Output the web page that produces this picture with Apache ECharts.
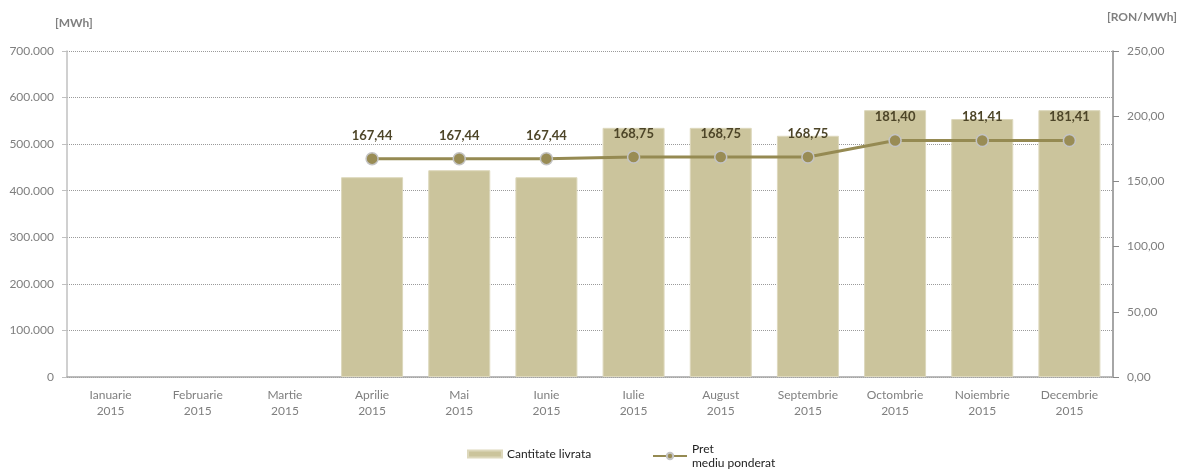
<!DOCTYPE html>
<html>
<head>
<meta charset="utf-8">
<script src="https://cdn.jsdelivr.net/npm/echarts@6/dist/echarts.min.js"></script>
<style>
  html, body { margin: 0; padding: 0; background: #fff; }
  #main { width: 1180px; height: 472px; }
</style>
</head>
<body>
<div id="main"></div>
<script>
// luni + valori
var luni = ['Ianuarie\n2015', 'Februarie\n2015', 'Martie\n2015', 'Aprilie\n2015', 'Mai\n2015', 'Iunie\n2015',
            'Iulie\n2015', 'August\n2015', 'Septembrie\n2015', 'Octombrie\n2015', 'Noiembrie\n2015', 'Decembrie\n2015'];
var cantitate = [null, null, null, 429000, 444000, 429000, 535000, 535000, 518000, 573000, 554000, 573000];
var pret = [null, null, null, 167.44, 167.44, 167.44, 168.75, 168.75, 168.75, 181.40, 181.41, 181.41];

var gri = '#7f7f7f';
var font = 'Lato';

function fmtMii(v) {
  return String(v).replace(/\B(?=(\d{3})+(?!\d))/g, '.');
}
function fmtZec(v) {
  return Number(v).toFixed(2).replace('.', ',');
}

var myChart = echarts.init(document.getElementById('main'));
myChart.setOption({
  animation: false,
  textStyle: { fontFamily: font },
  grid: { left: 67, right: 67, top: 51, bottom: 95 },
  legend: [
    {
      left: 462,
      top: 443,
      itemWidth: 34,
      itemHeight: 7,
      textStyle: { fontFamily: font, fontSize: 12, color: '#222' },
      data: [{ name: 'Cantitate livrata', icon: 'rect' }]
    },
    {
      // al doilea rand al textului sta sub simbol, ca in original
      left: 647,
      top: 430,
      itemWidth: 34,
      itemHeight: 8,
      textStyle: { fontFamily: font, fontSize: 12, color: '#222', lineHeight: 14, padding: [14, 0, 0, 0] },
      formatter: function () { return 'Pret\nmediu ponderat'; },
      data: [{ name: 'Pret mediu ponderat' }]
    }
  ],
  xAxis: {
    type: 'category',
    data: luni,
    axisLine: { lineStyle: { color: '#a6a6a6', width: 1.5 } },
    axisTick: { show: false },
    axisLabel: { color: gri, fontSize: 12, lineHeight: 16, margin: 10 }
  },
  yAxis: [
    {
      type: 'value',
      min: 0, max: 700000, interval: 100000,
      name: '[MWh]',
      nameLocation: 'end',
      nameGap: 22,
      nameTextStyle: { color: gri, fontWeight: 'bold', fontSize: 12, align: 'left', padding: [0, 0, 0, -12] },
      axisLine: { show: true, lineStyle: { color: '#c0c0c0', width: 1.5 } },
      axisTick: { show: true, length: 5, lineStyle: { color: '#c0c0c0' } },
      axisLabel: { color: gri, fontSize: 12, margin: 13, formatter: fmtMii },
      splitLine: { lineStyle: { color: '#9a9a9a', type: 'dotted', width: 1 } }
    },
    {
      type: 'value',
      min: 0, max: 250, interval: 50,
      name: '[RON/MWh]',
      nameLocation: 'end',
      nameGap: 28,
      nameTextStyle: { color: gri, fontWeight: 'bold', fontSize: 12, align: 'left', padding: [0, 0, 0, -6] },
      axisLine: { show: true, lineStyle: { color: '#888', width: 1.5 } },
      axisTick: { show: true, length: 6, lineStyle: { color: '#888' } },
      axisLabel: { color: gri, fontSize: 12, margin: 14, formatter: fmtZec },
      splitLine: { show: false }
    }
  ],
  series: [
    {
      name: 'Cantitate livrata',
      type: 'bar',
      barWidth: 62,
      data: cantitate,
      itemStyle: { color: '#cbc49c', borderColor: '#ddd8bc', borderWidth: 1 }
    },
    {
      name: 'Pret mediu ponderat',
      type: 'line',
      yAxisIndex: 1,
      data: pret,
      symbol: 'circle',
      symbolSize: 12,
      lineStyle: { color: '#958a52', width: 3 },
      itemStyle: { color: '#998c55', borderColor: '#c4c4c4', borderWidth: 1.5 },
      label: {
        show: true,
        position: 'top',
        distance: 10,
        color: '#4d4528',
        fontWeight: 'bold',
        fontSize: 13,
        fontFamily: font,
        formatter: function (p) { return fmtZec(p.value); }
      }
    }
  ]
});
window.onresize = myChart.resize;
</script>
</body>
</html>
